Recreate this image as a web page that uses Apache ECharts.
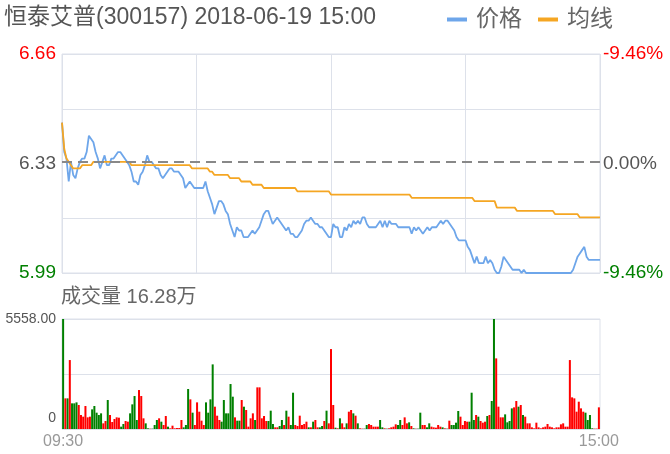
<!DOCTYPE html>
<html>
<head>
<meta charset="utf-8">
<script src="https://cdn.jsdelivr.net/npm/echarts@6/dist/echarts.min.js"></script>
<style>html,body{margin:0;padding:0;background:#fff}#c{width:670px;height:454px}</style>
</head>
<body>
<div id="c"></div>
<script>
const titleText = '恒泰艾普(300157) 2018-06-19 15:00';
const volTitle = '成交量 16.28万';
const seriesNames = ['价格', '均线'];
const leftTicks = ['5.99', '', '6.33', '', '6.66'];
const rightTicks = ['-9.46%', '', '0.00%', '', '-9.46%'];
const priceMin = 5.99, priceMax = 6.66, prevClose = 6.325;
const volMax = 5558;
const volTickLabels = { top: '5558.00', bottom: '0' };
const timeLabels = { first: '09:30', last: '15:00' };

const price = [
 6.45,6.36,6.34,6.27,6.33,6.29,6.28,6.31,6.33,6.34,
 6.34,6.36,6.41,6.40,6.39,6.36,6.34,6.31,6.33,6.35,
 6.32,6.32,6.34,6.34,6.35,6.36,6.36,6.35,6.34,6.33,
 6.32,6.30,6.27,6.27,6.26,6.29,6.30,6.32,6.35,6.33,
 6.33,6.32,6.31,6.31,6.29,6.28,6.29,6.30,6.31,6.31,
 6.30,6.30,6.30,6.29,6.28,6.25,6.26,6.27,6.26,6.25,
 6.25,6.25,6.25,6.25,6.27,6.24,6.22,6.20,6.17,6.19,
 6.21,6.21,6.20,6.18,6.17,6.14,6.12,6.10,6.13,6.12,
 6.12,6.10,6.10,6.10,6.11,6.12,6.11,6.12,6.13,6.15,
 6.17,6.18,6.18,6.16,6.14,6.15,6.16,6.15,6.14,6.13,
 6.12,6.13,6.11,6.11,6.10,6.10,6.11,6.12,6.14,6.15,
 6.15,6.16,6.15,6.14,6.14,6.13,6.13,6.12,6.11,6.10,
 6.10,6.14,6.13,6.13,6.10,6.10,6.13,6.12,6.14,6.13,
 6.15,6.14,6.15,6.14,6.16,6.16,6.14,6.13,6.13,6.13,
 6.13,6.14,6.15,6.13,6.15,6.13,6.15,6.14,6.14,6.14,
 6.13,6.13,6.13,6.13,6.13,6.13,6.11,6.13,6.12,6.13,
 6.12,6.11,6.12,6.13,6.12,6.13,6.13,6.13,6.14,6.15,
 6.14,6.15,6.15,6.14,6.13,6.12,6.10,6.09,6.09,6.09,
 6.09,6.07,6.06,6.04,6.02,6.04,6.02,6.02,6.02,6.04,
 6.02,6.03,6.02,6.00,5.99,5.99,6.01,6.04,6.03,6.02,
 6.01,6.00,6.00,6.00,6.00,5.99,6.00,5.99,5.99,5.99,
 5.99,5.99,5.99,5.99,5.99,5.99,5.99,5.99,5.99,5.99,
 5.99,5.99,5.99,5.99,5.99,5.99,5.99,5.99,6.00,6.02,
 6.04,6.05,6.06,6.07,6.04,6.03,6.03,6.03,6.03,6.03,
 6.03
];

const avg = [
 6.45,6.37,6.34,6.33,6.32,6.31,6.31,6.31,6.31,6.32,
 6.32,6.32,6.32,6.32,6.33,6.33,6.33,6.33,6.33,6.33,
 6.33,6.33,6.33,6.33,6.33,6.33,6.33,6.33,6.33,6.33,
 6.33,6.32,6.32,6.32,6.32,6.32,6.32,6.32,6.32,6.32,
 6.32,6.32,6.32,6.32,6.32,6.32,6.32,6.32,6.32,6.32,
 6.32,6.32,6.32,6.32,6.32,6.32,6.32,6.32,6.31,6.31,
 6.31,6.31,6.31,6.31,6.31,6.31,6.30,6.30,6.29,6.29,
 6.29,6.29,6.29,6.29,6.29,6.28,6.28,6.28,6.28,6.28,
 6.27,6.27,6.27,6.27,6.27,6.26,6.26,6.26,6.26,6.26,
 6.25,6.25,6.25,6.25,6.25,6.25,6.25,6.25,6.25,6.25,
 6.25,6.25,6.25,6.25,6.25,6.24,6.24,6.24,6.24,6.24,
 6.24,6.24,6.24,6.24,6.24,6.24,6.24,6.24,6.24,6.24,
 6.23,6.23,6.23,6.23,6.23,6.23,6.23,6.23,6.23,6.23,
 6.23,6.23,6.23,6.23,6.23,6.23,6.23,6.23,6.23,6.23,
 6.23,6.23,6.23,6.23,6.23,6.23,6.23,6.23,6.23,6.23,
 6.23,6.23,6.23,6.23,6.23,6.23,6.22,6.22,6.22,6.22,
 6.22,6.22,6.22,6.22,6.22,6.22,6.22,6.22,6.22,6.22,
 6.22,6.22,6.22,6.22,6.22,6.22,6.22,6.22,6.22,6.22,
 6.22,6.22,6.22,6.22,6.21,6.21,6.21,6.21,6.21,6.21,
 6.21,6.21,6.21,6.21,6.19,6.19,6.19,6.19,6.19,6.19,
 6.19,6.19,6.19,6.18,6.18,6.18,6.18,6.18,6.18,6.18,
 6.18,6.18,6.18,6.18,6.18,6.18,6.18,6.18,6.18,6.18,
 6.17,6.17,6.17,6.17,6.17,6.17,6.17,6.17,6.17,6.17,
 6.17,6.16,6.16,6.16,6.16,6.16,6.16,6.16,6.16,6.16,
 6.16
];

const volume = [
 5558,1548,1548,3484,1296,1296,1346,1212,707,623,
 1161,589,623,993,1161,825,707,791,286,404,
 1464,707,353,505,589,572,118,252,404,370,
 791,1245,1666,454,1969,1666,539,286,34,17,
 17,202,454,539,370,202,656,118,34,168,
 34,50,50,454,84,202,2020,1498,825,202,
 1346,875,421,202,1346,825,1498,3265,1128,673,
 454,370,1464,791,791,2272,1633,589,421,421,
 1464,1128,959,118,539,791,454,2104,2104,539,
 656,404,404,926,252,84,84,151,454,202,
 926,623,202,1834,202,151,673,202,252,370,
 84,84,370,454,84,84,151,404,926,286,
 4039,1212,67,34,539,286,84,286,875,959,
 791,673,286,34,17,17,202,252,202,118,
 118,118,454,84,34,17,34,84,118,236,
 202,454,202,589,286,337,151,34,17,17,
 825,202,202,84,286,118,84,67,202,118,
 84,34,17,421,202,202,320,909,623,202,
 404,370,370,1834,454,707,623,404,320,370,
 656,707,1414,5558,3568,1128,589,589,740,337,
 404,1043,1094,1414,1128,1212,707,623,286,286,
 84,34,320,84,34,84,118,252,118,84,
 34,84,84,236,286,118,118,3484,1599,1548,
 875,1380,1043,875,825,454,707,34,17,17,
 1094
];

// 1 = up (red), 0 = down (green)
const volUp = [
 0,1,0,1,0,0,0,1,1,1,
 1,1,1,0,0,0,0,0,1,1,
 0,1,1,1,1,1,0,0,1,1,
 0,0,0,0,1,1,1,0,0,1,
 0,0,0,1,0,1,1,0,1,1,
 1,1,1,1,0,0,0,1,0,1,
 1,1,1,1,0,0,0,0,1,1,
 1,0,0,0,0,0,0,1,0,0,
 1,0,1,1,1,1,0,1,1,1,
 1,1,0,0,0,1,1,0,0,1,
 0,1,0,0,1,1,1,1,1,1,
 0,1,0,1,1,0,0,1,0,1,
 1,1,0,1,0,1,1,0,1,1,
 0,1,0,1,1,0,0,1,1,1,
 1,1,0,0,1,0,1,1,1,1,
 0,0,1,1,1,0,1,0,1,0,
 0,1,1,0,0,1,1,1,1,1,
 0,1,0,1,0,0,0,0,1,1,
 1,1,0,0,0,1,0,1,1,1,
 0,1,0,0,1,1,1,1,0,0,
 0,0,1,1,0,1,0,1,1,1,
 1,1,1,1,1,1,1,1,1,1,
 1,1,1,1,1,1,1,1,1,1,
 1,1,1,1,0,0,0,0,1,1,
 1
];

// trading minutes 09:30-11:30, 13:01-15:00
const times = [];
function pad(n){ return (n < 10 ? '0' : '') + n; }
for (let m = 9*60+30; m <= 11*60+30; m++) times.push(pad(Math.floor(m/60)) + ':' + pad(m%60));
for (let m = 13*60+1; m <= 15*60; m++) times.push(pad(Math.floor(m/60)) + ':' + pad(m%60));

const FONT = "'Liberation Sans', 'Noto Sans CJK SC', sans-serif";
const RED = '#ff0000', GREEN = '#008000', GRAY = '#555555';
const GRID_COLOR = '#dde1ea';

const chart = echarts.init(document.getElementById('c'));
chart.setOption({
  animation: false,
  textStyle: { fontFamily: FONT },
  title: [
    { text: titleText, left: 4, top: 6, padding: 0,
      textStyle: { fontSize: 23, fontWeight: 'normal', color: '#555', fontFamily: FONT } },
    { text: volTitle, left: 61, top: 287, padding: 0,
      textStyle: { fontSize: 20, fontWeight: 'normal', color: '#666', fontFamily: FONT } }
  ],
  legend: {
    data: seriesNames, right: 57, top: 8, padding: 0,
    icon: 'rect', itemWidth: 20, itemHeight: 4, itemGap: 16,
    textStyle: { fontSize: 23, color: '#666', fontFamily: FONT, padding: [0, 0, 0, 4] }
  },
  grid: [
    { left: 62, right: 70, top: 54, height: 219, show: true, borderColor: GRID_COLOR, borderWidth: 1 },
    { left: 62, right: 70, top: 319, height: 110, show: true, borderColor: GRID_COLOR, borderWidth: 1 }
  ],
  xAxis: [
    { type: 'category', gridIndex: 0, data: times, boundaryGap: false,
      axisLine: { show: false }, axisTick: { show: false }, axisLabel: { show: false },
      splitLine: { show: true, interval: function (i) { return i % 60 === 0; },
        lineStyle: { color: GRID_COLOR, width: 1 } } },
    { type: 'category', gridIndex: 1, data: times, boundaryGap: true,
      axisLine: { show: false }, axisTick: { show: false },
      axisLabel: { show: true, interval: function (i) { return i === 0 || i === times.length - 1; },
        formatter: function (v, i) { return i === 0 ? timeLabels.first : timeLabels.last; },
        fontSize: 16, color: '#999', margin: 5, fontFamily: FONT },
      splitLine: { show: false } }
  ],
  yAxis: [
    { type: 'value', gridIndex: 0, min: priceMin, max: priceMax, show: false },
    { type: 'category', gridIndex: 0, position: 'left', data: leftTicks, boundaryGap: false,
      axisLine: { show: false }, axisTick: { show: false },
      axisLabel: { show: true, interval: 0, margin: 6, fontSize: 19, fontFamily: FONT,
        formatter: function (v, i) { return v === '' ? '' : (i === 4 ? '{u|' + v + '}' : i === 0 ? '{d|' + v + '}' : '{m|' + v + '}'); },
        rich: { u: { color: RED, fontSize: 19, fontFamily: FONT }, d: { color: GREEN, fontSize: 19, fontFamily: FONT }, m: { color: GRAY, fontSize: 19, fontFamily: FONT } } },
      splitLine: { show: true, interval: function (i) { return i !== 2; }, lineStyle: { color: GRID_COLOR, width: 1 } } },
    { type: 'category', gridIndex: 0, position: 'right', data: rightTicks, boundaryGap: false,
      axisLine: { show: false }, axisTick: { show: false },
      axisLabel: { show: true, interval: 0, margin: 3, fontSize: 19, fontFamily: FONT,
        formatter: function (v, i) { return v === '' ? '' : (i === 4 ? '{u|' + v + '}' : i === 0 ? '{d|' + v + '}' : '{m|' + v + '}'); },
        rich: { u: { color: RED, fontSize: 19, fontFamily: FONT }, d: { color: GREEN, fontSize: 19, fontFamily: FONT }, m: { color: GRAY, fontSize: 19, fontFamily: FONT } } },
      splitLine: { show: false } },
    { type: 'value', gridIndex: 1, min: 0, max: volMax, interval: volMax / 2,
      axisLine: { show: false }, axisTick: { show: false },
      axisLabel: { show: true, margin: 6, fontSize: 14, color: GRAY, fontFamily: FONT,
        formatter: function (v) { return v === volMax ? volTickLabels.top : (v === 0 ? '{z|' + volTickLabels.bottom + '}' : ''); },
        rich: { z: { fontSize: 14, color: GRAY, fontFamily: FONT, padding: [0, 0, 22, 0] } } },
      splitLine: { show: true, lineStyle: { color: GRID_COLOR, width: 1 } } }
  ],
  series: [
    { name: seriesNames[0], type: 'line', xAxisIndex: 0, yAxisIndex: 0, data: price,
      showSymbol: false, symbol: 'none', smooth: false,
      itemStyle: { color: '#6ea6ea' }, lineStyle: { color: '#6ea6ea', width: 1.8 },
      markLine: { silent: true, symbol: 'none', label: { show: false },
        lineStyle: { color: '#888', type: [10, 6], width: 2 },
        data: [{ yAxis: prevClose }] }, z: 3 },
    { name: seriesNames[1], type: 'line', xAxisIndex: 0, yAxisIndex: 0, data: avg,
      showSymbol: false, symbol: 'none',
      itemStyle: { color: '#f5a623' }, lineStyle: { color: '#f5a623', width: 1.8 }, z: 4 },
    { name: '成交量', type: 'bar', xAxisIndex: 1, yAxisIndex: 3,
      barCategoryGap: '10%',
      data: volume.map(function (v, i) { return { value: v, itemStyle: { color: volUp[i] ? RED : GREEN } }; }) }
  ]
});
</script>
</body>
</html>
